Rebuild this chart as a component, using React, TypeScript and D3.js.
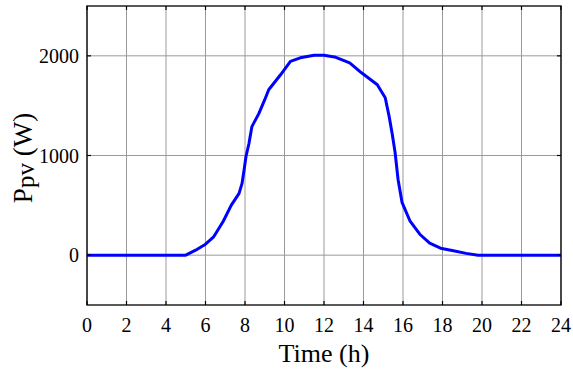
import * as d3 from "d3";

// hours of day and PV output power (W)
const hours = [0, 5, 5.5, 6, 6.4, 6.9, 7.3, 7.7, 7.85, 7.95, 8.05, 8.2, 8.35, 8.7, 9, 9.2, 9.8, 10.3, 10.8, 11.5, 12, 12.6, 13.3, 13.9, 14.7, 15.1, 15.3, 15.45, 15.6, 15.75, 15.95, 16.35, 16.85, 17.35, 17.9, 18.55, 19.2, 19.8, 24];
const power = [0, 0, 50, 110, 180, 340, 500, 620, 720, 850, 990, 1120, 1290, 1420, 1560, 1660, 1810, 1945, 1980, 2005, 2005, 1985, 1930, 1830, 1710, 1580, 1390, 1220, 1030, 760, 530, 345, 210, 120, 70, 45, 18, 0, 0];

const xTicks = [0, 2, 4, 6, 8, 10, 12, 14, 16, 18, 20, 22, 24];
const yTicks = [0, 1000, 2000];

const W = 573;
const H = 371;
const pad = { t: 6, r: 12, b: 66, l: 87 };
const FONT = "'Liberation Serif', 'Times New Roman', serif";

export default function App() {
  const cw = W - pad.l - pad.r;
  const ch = H - pad.t - pad.b;
  const x = d3.scaleLinear().domain([0, 24]).range([0, cw]);
  const y = d3.scaleLinear().domain([-500, 2500]).range([ch, 0]);
  const line = d3
    .line<number>()
    .x((_, i) => x(hours[i]))
    .y((d) => y(d));
  const tk = 4;

  return (
    <svg width={W} height={H} style={{ position: "absolute", left: 0, top: 0, background: "#fff" }}>
      <g transform={`translate(${pad.l},${pad.t})`}>
        {xTicks.map((t) => (
          <line key={"gx" + t} x1={x(t)} x2={x(t)} y1={0} y2={ch} stroke="#9a9a9a" strokeWidth={1} />
        ))}
        {yTicks.map((t) => (
          <line key={"gy" + t} x1={0} x2={cw} y1={y(t)} y2={y(t)} stroke="#9a9a9a" strokeWidth={1} />
        ))}
        <path d={line(power) ?? ""} fill="none" stroke="#0000ff" strokeWidth={3} strokeLinejoin="round" />
        <rect x={0} y={0} width={cw} height={ch} fill="none" stroke="#000" strokeWidth={1.3} />
        {xTicks.map((t) => (
          <g key={"tx" + t}>
            <line x1={x(t)} x2={x(t)} y1={ch} y2={ch - tk} stroke="#000" strokeWidth={1.2} />
            <line x1={x(t)} x2={x(t)} y1={0} y2={tk} stroke="#000" strokeWidth={1.2} />
            <text x={x(t)} y={ch + 27} textAnchor="middle" fontSize={20} fontFamily={FONT} fill="#000">
              {t}
            </text>
          </g>
        ))}
        {yTicks.map((t) => (
          <g key={"ty" + t}>
            <line x1={0} x2={tk} y1={y(t)} y2={y(t)} stroke="#000" strokeWidth={1.2} />
            <line x1={cw} x2={cw - tk} y1={y(t)} y2={y(t)} stroke="#000" strokeWidth={1.2} />
            <text x={-8} y={y(t) + 7} textAnchor="end" fontSize={20} fontFamily={FONT} fill="#000">
              {t}
            </text>
          </g>
        ))}
        <text x={cw / 2} y={ch + 57} textAnchor="middle" fontSize={26} fontFamily={FONT} fill="#000">
          Time (h)
        </text>
      </g>
      <text
        transform={`translate(32,158) rotate(-90)`}
        textAnchor="middle"
        fontSize={27}
        fontFamily={FONT}
        fill="#000"
      >
        P
        <tspan fontSize={25} dy={2}>pv</tspan>
        <tspan dy={-2}> (W)</tspan>
      </text>
    </svg>
  );
}
